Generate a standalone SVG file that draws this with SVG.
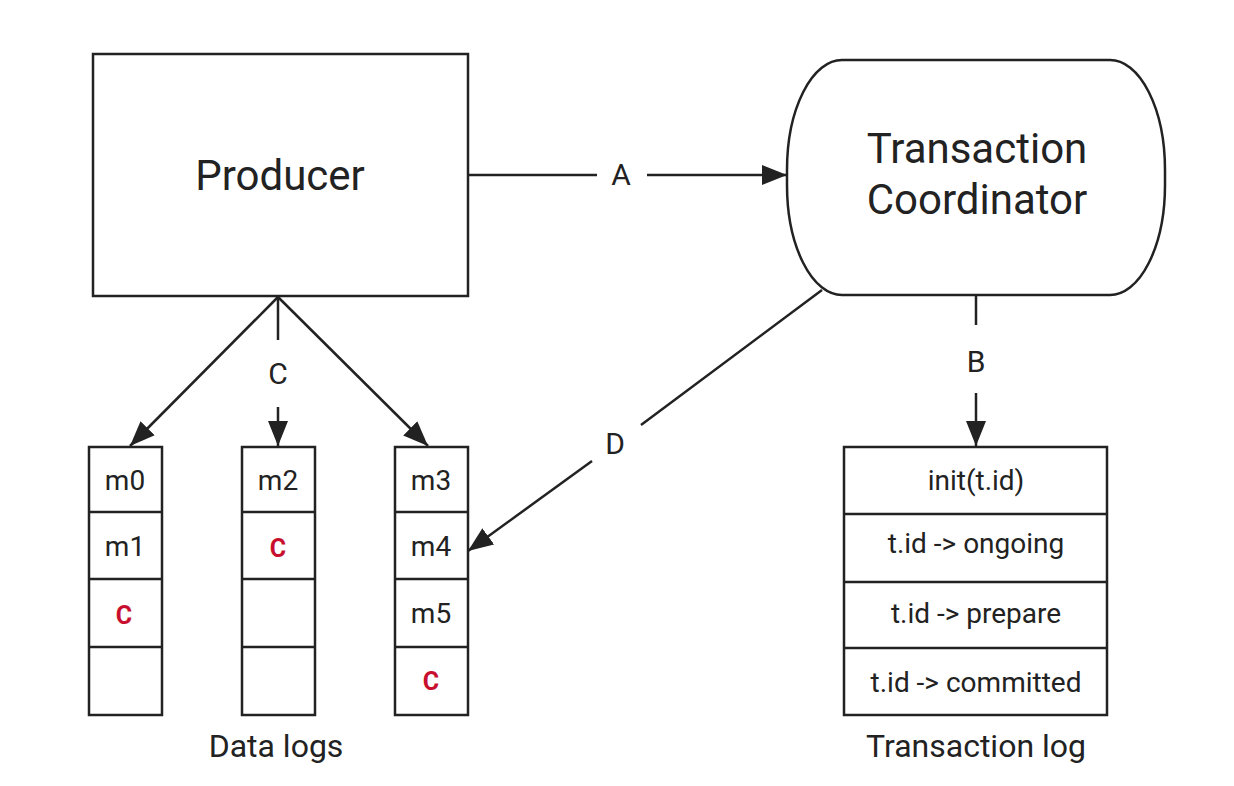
<svg xmlns="http://www.w3.org/2000/svg" width="1234" height="786" viewBox="0 0 1234 786">
<defs>
<style>
.box{fill:#fff;stroke:#222;stroke-width:2.5}
.ln{fill:none;stroke:#222;stroke-width:2.5}
.t{font-family:Roboto,"Liberation Sans",sans-serif;fill:#222;text-anchor:middle}
.big{font-size:42px}
.lbl{font-size:30px}
.cell{font-size:28px}
.red{fill:#c8102e;font-weight:bold;font-size:25px}
.cap{font-size:32px}
</style>
<marker id="ah" markerUnits="userSpaceOnUse" markerWidth="26" markerHeight="20" refX="25" refY="10" orient="auto">
<path d="M0,0 L25,10 L0,20 Z" fill="#222"/>
</marker>
</defs>
<rect width="1234" height="786" fill="#fff"/>

<g id="producer">
<rect class="box" x="93" y="54" width="375" height="242"/>
<text class="t big" x="280" y="190">Producer</text>
</g>

<g id="coordinator">
<rect class="box" x="787" y="60" width="378" height="235" rx="55" ry="110"/>
<text class="t big" x="977" y="163">Transaction</text>
<text class="t big" x="977" y="214">Coordinator</text>
</g>

<g id="datalog1">
<rect class="box" x="89" y="447" width="73" height="268"/>
<line class="ln" x1="89" y1="512" x2="162" y2="512"/>
<line class="ln" x1="89" y1="579" x2="162" y2="579"/>
<line class="ln" x1="89" y1="647" x2="162" y2="647"/>
<text class="t cell" x="125" y="490">m0</text>
<text class="t cell" x="125" y="556">m1</text>
<text class="t red" x="124" y="624">C</text>
</g>

<g id="datalog2">
<rect class="box" x="242" y="447" width="73" height="268"/>
<line class="ln" x1="242" y1="512" x2="315" y2="512"/>
<line class="ln" x1="242" y1="579" x2="315" y2="579"/>
<line class="ln" x1="242" y1="647" x2="315" y2="647"/>
<text class="t cell" x="278" y="490">m2</text>
<text class="t red" x="278" y="557">C</text>
</g>

<g id="datalog3">
<rect class="box" x="395" y="447" width="73" height="268"/>
<line class="ln" x1="395" y1="512" x2="468" y2="512"/>
<line class="ln" x1="395" y1="579" x2="468" y2="579"/>
<line class="ln" x1="395" y1="647" x2="468" y2="647"/>
<text class="t cell" x="431" y="490">m3</text>
<text class="t cell" x="431" y="556">m4</text>
<text class="t cell" x="431" y="623">m5</text>
<text class="t red" x="431" y="690">C</text>
</g>

<g id="datalogs-caption">
<text class="t cap" x="276" y="757">Data logs</text>
</g>

<g id="txlog">
<rect class="box" x="844" y="447" width="263" height="268"/>
<line class="ln" x1="844" y1="514" x2="1107" y2="514"/>
<line class="ln" x1="844" y1="582" x2="1107" y2="582"/>
<line class="ln" x1="844" y1="648" x2="1107" y2="648"/>
<text class="t cell" x="976" y="490">init(t.id)</text>
<text class="t cell" x="976" y="553">t.id -&gt; ongoing</text>
<text class="t cell" x="976" y="623">t.id -&gt; prepare</text>
<text class="t cell" x="976" y="692">t.id -&gt; committed</text>
<text class="t cap" x="976" y="757">Transaction log</text>
</g>

<g id="connectors">
<line class="ln" x1="468" y1="175" x2="597" y2="175"/>
<line class="ln" x1="647" y1="175" x2="787" y2="175" marker-end="url(#ah)"/>
<text class="t lbl" x="621" y="185">A</text>

<line class="ln" x1="278" y1="297" x2="130" y2="446" marker-end="url(#ah)"/>
<line class="ln" x1="278" y1="297" x2="428" y2="446" marker-end="url(#ah)"/>
<line class="ln" x1="278" y1="297" x2="278" y2="340"/>
<text class="t lbl" x="278" y="384">C</text>
<line class="ln" x1="278" y1="407" x2="278" y2="446" marker-end="url(#ah)"/>

<line class="ln" x1="976" y1="295" x2="976" y2="325"/>
<text class="t lbl" x="976" y="372">B</text>
<line class="ln" x1="976" y1="393" x2="976" y2="446" marker-end="url(#ah)"/>

<line class="ln" x1="822" y1="290" x2="641" y2="425"/>
<text class="t lbl" x="615" y="454">D</text>
<line class="ln" x1="592" y1="461" x2="468" y2="551" marker-end="url(#ah)"/>
</g>
</svg>
